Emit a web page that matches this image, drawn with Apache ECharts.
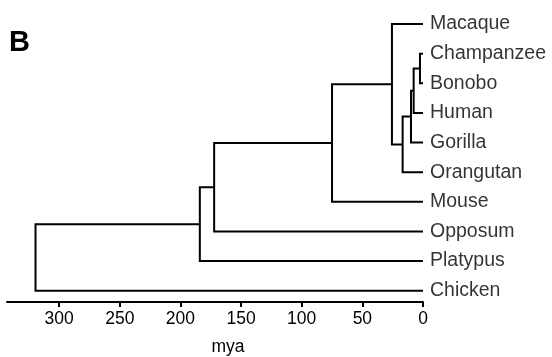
<!DOCTYPE html>
<html>
<head>
<meta charset="utf-8">
<script src="https://cdn.jsdelivr.net/npm/echarts@6/dist/echarts.min.js"></script>
<style>
  html, body { margin: 0; padding: 0; background: #fff; }
  #chart { width: 552px; height: 357px; }
</style>
</head>
<body>
<div id="chart"></div>
<script>
// leaves, top to bottom
const leaves = ['Macaque', 'Champanzee', 'Bonobo', 'Human', 'Gorilla', 'Orangutan', 'Mouse', 'Opposum', 'Platypus', 'Chicken'];
// merges: node n(i+1) joins mergeLeft[i] and mergeRight[i] at mergeHeight[i] (mya)
const mergeLeft = ['Champanzee', 'n1', 'n2', 'n3', 'Macaque', 'n5', 'n6', 'n7', 'n8'];
const mergeRight = ['Bonobo', 'Human', 'Gorilla', 'Orangutan', 'n4', 'Mouse', 'Opposum', 'Platypus', 'Chicken'];
const mergeHeight = [2.5, 7.7, 9.9, 16.8, 25.6, 75, 172.2, 184, 319.5];
const tickValues = [0, 50, 100, 150, 200, 250, 300];

// positions of every node: x = age, y = leaf slot
const pos = {};
leaves.forEach((name, i) => { pos[name] = [0, i]; });
const branches = [];
mergeHeight.forEach((h, i) => {
  const a = pos[mergeLeft[i]], b = pos[mergeRight[i]];
  pos['n' + (i + 1)] = [h, (a[1] + b[1]) / 2];
  branches.push({ coords: [[a[0], a[1]], [h, a[1]], [h, b[1]], [b[0], b[1]]] });
});

const chart = echarts.init(document.getElementById('chart'));
const font = 'Liberation Sans';
chart.setOption({
  animation: false,
  grid: { left: 7, right: 129, top: 10, bottom: 55, outerBoundsMode: 'none', containLabel: false },
  xAxis: {
    type: 'value',
    position: 'bottom',
    inverse: true,
    min: 0,
    max: 343,
    interval: 50,
    splitLine: { show: false },
    axisLine: { onZero: false, lineStyle: { color: '#000', width: 2 } },
    axisTick: { length: 5, lineStyle: { color: '#000', width: 2 }, customValues: tickValues },
    axisLabel: { color: '#000', fontSize: 17.5, fontFamily: font, margin: 8, customValues: tickValues },
    name: 'mya',
    nameLocation: 'middle',
    nameGap: 36,
    nameTextStyle: { color: '#000', fontSize: 17.5, fontFamily: font, padding: [0, 0, 0, 26] }
  },
  yAxis: {
    type: 'value',
    inverse: true,
    min: -0.4725,
    max: 9.381,
    show: false
  },
  graphic: [{
    type: 'text',
    left: 9,
    top: 28,
    style: { text: 'B', font: 'bold 29px ' + font, fill: '#000' }
  }],
  series: [
    {
      type: 'lines',
      coordinateSystem: 'cartesian2d',
      polyline: true,
      silent: true,
      lineStyle: { color: '#000', width: 2, opacity: 1 },
      data: branches
    },
    {
      type: 'scatter',
      symbolSize: 0,
      silent: true,
      data: leaves.map((name, i) => ({ name: name, value: [0, i] })),
      label: {
        show: true,
        position: 'right',
        distance: 7,
        formatter: '{b}',
        color: '#000',
        fontSize: 19.5,
        fontFamily: font
      }
    }
  ]
});
</script>
</body>
</html>
